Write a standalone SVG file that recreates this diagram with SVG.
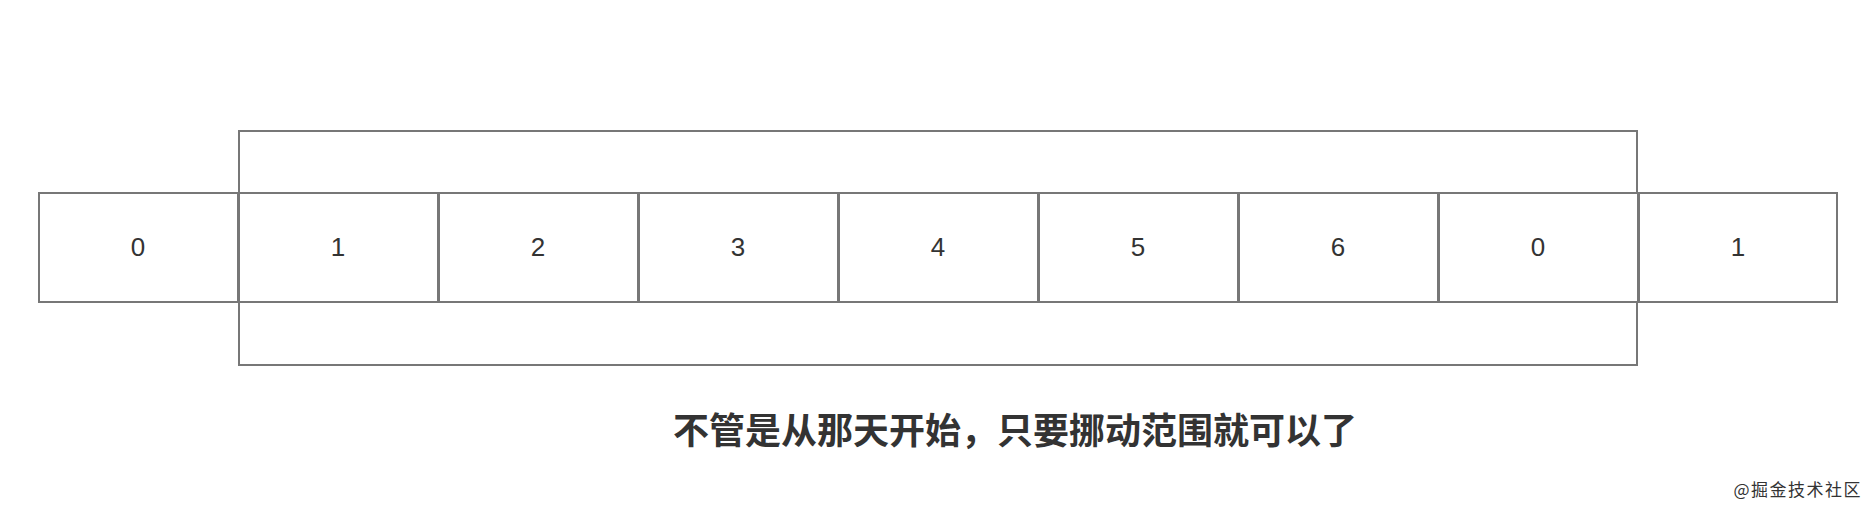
<svg xmlns="http://www.w3.org/2000/svg" width="1872" height="510" viewBox="0 0 1872 510">
<style>
.cell{fill:#fff;stroke:#777;stroke-width:2}
.range{fill:none;stroke:#777;stroke-width:2}
.num{font-family:"Liberation Sans",Arial,sans-serif;font-size:26px;fill:#333;text-anchor:middle;dominant-baseline:central}
.cap{font-family:"Liberation Sans","Noto Sans CJK SC",sans-serif;font-size:36px;font-weight:bold;fill:#333;text-anchor:middle}
.wm{font-family:"Noto Sans CJK SC",sans-serif;font-size:17px;letter-spacing:1.5px;fill:#333;text-anchor:end}
</style>
<rect width="1872" height="510" fill="#fff"/>
<g id="range"><rect class="range" x="239" y="131" width="1398" height="234"/></g>
<g id="cell0"><rect class="cell" x="39" y="193" width="199" height="109"/><text class="num" x="138" y="247">0</text></g>
<g id="cell1"><rect class="cell" x="239" y="193" width="199" height="109"/><text class="num" x="338" y="247">1</text></g>
<g id="cell2"><rect class="cell" x="439" y="193" width="199" height="109"/><text class="num" x="538" y="247">2</text></g>
<g id="cell3"><rect class="cell" x="639" y="193" width="199" height="109"/><text class="num" x="738" y="247">3</text></g>
<g id="cell4"><rect class="cell" x="839" y="193" width="199" height="109"/><text class="num" x="938" y="247">4</text></g>
<g id="cell5"><rect class="cell" x="1039" y="193" width="199" height="109"/><text class="num" x="1138" y="247">5</text></g>
<g id="cell6"><rect class="cell" x="1239" y="193" width="199" height="109"/><text class="num" x="1338" y="247">6</text></g>
<g id="cell7"><rect class="cell" x="1439" y="193" width="199" height="109"/><text class="num" x="1538" y="247">0</text></g>
<g id="cell8"><rect class="cell" x="1639" y="193" width="198" height="109"/><text class="num" x="1738" y="247">1</text></g>
<g id="connectors"></g>
<text class="cap" x="1015" y="444">不管是从那天开始，只要挪动范围就可以了</text>
<text class="wm" x="1862" y="496">@掘金技术社区</text>
</svg>
